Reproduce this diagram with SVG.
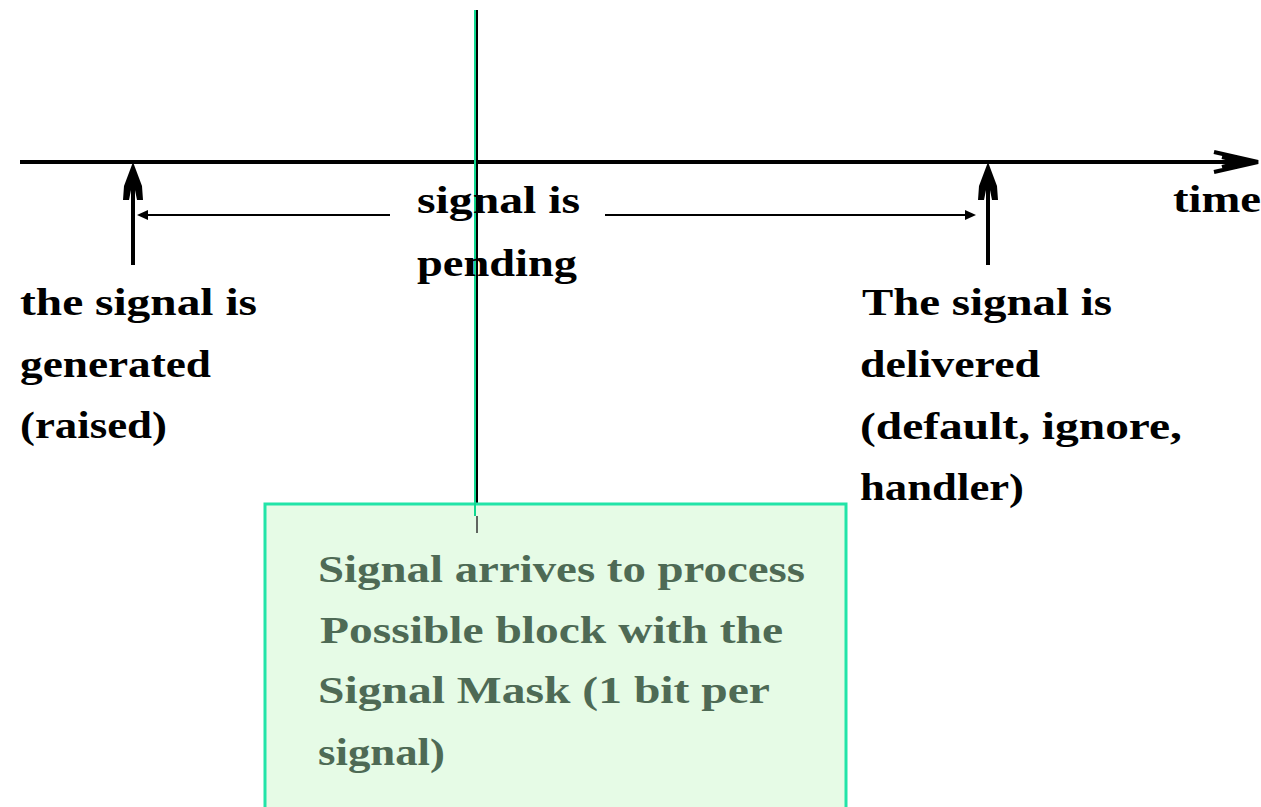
<svg xmlns="http://www.w3.org/2000/svg" width="1261" height="807" viewBox="0 0 1261 807">
<style>
.t{font-family:"Liberation Serif","Times New Roman",serif;font-weight:bold;font-size:38px;fill:#000}
.b{font-family:"Liberation Serif","Times New Roman",serif;font-weight:bold;font-size:38px;fill:#4e6a55}
.ln{stroke:#000;fill:none}
</style>
<rect width="1261" height="807" fill="#fff"/>
<g id="connectors">
  <!-- timeline -->
  <line class="ln" x1="20" y1="162" x2="1250" y2="162" stroke-width="4"/>
  <path d="M1214,152 L1258,162 L1214,172 M1222,157 L1242,162 L1222,167" stroke="#000" stroke-width="4" fill="none"/>
  <!-- generated up arrow -->
  <line class="ln" x1="133" y1="175" x2="133" y2="265" stroke-width="4"/>
  <path d="M133,162 L124,186 L123,200 L129,200 L133,180 L137,200 L143,200 L142,186 Z" fill="#000"/>
  <!-- delivered up arrow -->
  <line class="ln" x1="988" y1="175" x2="988" y2="265" stroke-width="4"/>
  <path d="M988,162 L979,186 L978,200 L984,200 L988,180 L992,200 L998,200 L997,186 Z" fill="#000"/>
  <!-- pending arrows -->
  <line class="ln" x1="140" y1="215" x2="390" y2="215" stroke-width="2"/>
  <path d="M137,215 L148,210 L148,220 Z" fill="#000"/>
  <line class="ln" x1="605" y1="215" x2="972" y2="215" stroke-width="2"/>
  <path d="M976,215 L965,210 L965,220 Z" fill="#000"/>
  <!-- vertical connector to box -->
  <line x1="477" y1="10" x2="477" y2="533" stroke="#000" stroke-width="2"/>
  <line x1="475" y1="10" x2="475" y2="516" stroke="#10d890" stroke-width="2"/>
</g>
<g id="box">
  <rect x="265" y="504" width="581" height="310" fill="#e6fbe6" stroke="#22e4a8" stroke-width="3"/>
  <line x1="475" y1="503" x2="475" y2="516" stroke="#10d890" stroke-width="2"/>
  <line x1="477" y1="516" x2="477" y2="533" stroke="#333" stroke-width="1.5"/>
  <text class="b" x="318" y="582" textLength="487" lengthAdjust="spacingAndGlyphs">Signal arrives to process</text>
  <text class="b" x="320" y="643" textLength="463" lengthAdjust="spacingAndGlyphs">Possible block with the</text>
  <text class="b" x="318" y="703" textLength="452" lengthAdjust="spacingAndGlyphs">Signal Mask (1 bit per</text>
  <text class="b" x="318" y="765" textLength="127" lengthAdjust="spacingAndGlyphs">signal)</text>
</g>
<g id="generated">
  <text class="t" x="20" y="315" textLength="237" lengthAdjust="spacingAndGlyphs">the signal is</text>
  <text class="t" x="20" y="377" textLength="191" lengthAdjust="spacingAndGlyphs">generated</text>
  <text class="t" x="20" y="438" textLength="147" lengthAdjust="spacingAndGlyphs">(raised)</text>
</g>
<g id="pending">
  <text class="t" x="417" y="213" textLength="163" lengthAdjust="spacingAndGlyphs">signal is</text>
  <text class="t" x="417" y="276" textLength="160" lengthAdjust="spacingAndGlyphs">pending</text>
</g>
<g id="time">
  <text class="t" x="1173" y="212" textLength="88" lengthAdjust="spacingAndGlyphs">time</text>
</g>
<g id="delivered">
  <text class="t" x="862" y="315" textLength="250" lengthAdjust="spacingAndGlyphs">The signal is</text>
  <text class="t" x="860" y="377" textLength="180" lengthAdjust="spacingAndGlyphs">delivered</text>
  <text class="t" x="860" y="439" textLength="322" lengthAdjust="spacingAndGlyphs">(default, ignore,</text>
  <text class="t" x="860" y="500" textLength="164" lengthAdjust="spacingAndGlyphs">handler)</text>
</g>
</svg>
